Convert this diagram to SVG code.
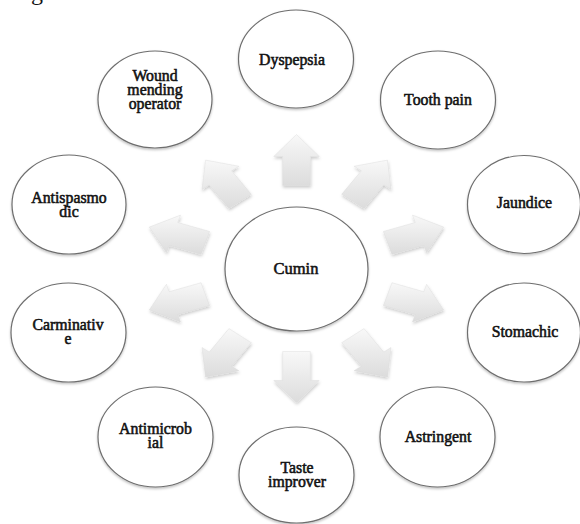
<svg xmlns="http://www.w3.org/2000/svg" width="580" height="524" viewBox="0 0 580 524">
<defs>
<linearGradient id="ag" x1="0" y1="0" x2="0" y2="1">
<stop offset="0" stop-color="#f8f8f8"/>
<stop offset="1" stop-color="#dcdcdc"/>
</linearGradient>
<filter id="ash" x="-20%" y="-20%" width="140%" height="140%">
<feDropShadow dx="0.5" dy="2" stdDeviation="1.5" flood-color="#000" flood-opacity="0.2"/>
</filter>
<filter id="esh" x="-10%" y="-10%" width="120%" height="125%">
<feDropShadow dx="0" dy="1.5" stdDeviation="1" flood-color="#000" flood-opacity="0.25"/>
</filter>
</defs>
<style>
.arrow{fill:url(#ag);stroke:#d8d8d8;stroke-width:0.4}
.node{fill:#fff;stroke:#6e6e6e;stroke-width:1.2;filter:url(#esh)}
.lbl{font-family:"Liberation Serif","Times New Roman",serif;font-size:15.8px;fill:#111;stroke:#111;stroke-width:0.55;text-anchor:middle}
</style>
<rect width="580" height="524" fill="#fff"/>
<text x="31" y="0" font-family="Liberation Serif, serif" font-size="24" fill="#111">g</text>
<g id="connectors" filter="url(#ash)">
<polygon class="arrow" points="282.64,185.5 282.64,156.5 273.69,156.5 296.5,134.5 319.31,156.5 310.36,156.5 310.36,185.5"/>
<polygon class="arrow" points="341.64,194.3 361.32,170.84 354.08,166.28 387.47,160.09 390.99,189.5 383.75,184.94 364.06,208.4"/>
<polygon class="arrow" points="383.39,231.44 415.25,222.48 412.48,215.11 443.7,227.09 426.58,252.67 423.81,245.3 391.96,254.26"/>
<polygon class="arrow" points="383.39,305.56 415.25,314.52 412.48,321.89 443.7,309.91 426.58,284.33 423.81,291.7 391.96,282.74"/>
<polygon class="arrow" points="341.64,342.7 361.32,366.16 354.08,370.72 387.47,376.91 390.99,347.5 383.75,352.06 364.06,328.6"/>
<polygon class="arrow" points="310.36,351.5 310.36,380.5 319.31,380.5 296.5,402.5 273.69,380.5 282.64,380.5 282.64,351.5"/>
<polygon class="arrow" points="251.36,342.7 231.68,366.16 238.92,370.72 205.53,376.91 202.01,347.5 209.25,352.06 228.94,328.6"/>
<polygon class="arrow" points="209.61,305.56 177.75,314.52 180.52,321.89 149.3,309.91 166.42,284.33 169.19,291.7 201.04,282.74"/>
<polygon class="arrow" points="209.61,231.44 177.75,222.48 180.52,215.11 149.3,227.09 166.42,252.67 169.19,245.3 201.04,254.26"/>
<polygon class="arrow" points="251.36,194.3 231.68,170.84 238.92,166.28 205.53,160.09 202.01,189.5 209.25,184.94 228.94,208.4"/>
</g>
<g id="cumin">
<ellipse class="node" cx="296.5" cy="269" rx="71.5" ry="62"/>
<text class="lbl" x="296" y="273.5" style="font-size:16.5px">Cumin</text>
</g>
<g id="dyspepsia">
<ellipse class="node" cx="296" cy="59" rx="57.5" ry="49"/>
<text class="lbl" x="292" y="65">Dyspepsia</text>
</g>
<g id="tooth-pain">
<ellipse class="node" cx="438" cy="100" rx="57.5" ry="49"/>
<text class="lbl" x="438" y="105">Tooth pain</text>
</g>
<g id="jaundice">
<ellipse class="node" cx="524" cy="204.5" rx="56.5" ry="49"/>
<text class="lbl" x="524.5" y="208">Jaundice</text>
</g>
<g id="stomachic">
<ellipse class="node" cx="524" cy="332.5" rx="56.5" ry="49.5"/>
<text class="lbl" x="525" y="336.5">Stomachic</text>
</g>
<g id="astringent">
<ellipse class="node" cx="437.5" cy="437" rx="57.5" ry="50"/>
<text class="lbl" x="438" y="441.5">Astringent</text>
</g>
<g id="taste-improver">
<ellipse class="node" cx="296.5" cy="475" rx="57.5" ry="48"/>
<text class="lbl" x="297" y="473">Taste</text>
<text class="lbl" x="297" y="487">improver</text>
</g>
<g id="antimicrobial">
<ellipse class="node" cx="155.5" cy="437" rx="57.5" ry="50"/>
<text class="lbl" x="155.5" y="434">Antimicrob</text>
<text class="lbl" x="155.5" y="448">ial</text>
</g>
<g id="carminative">
<ellipse class="node" cx="68.5" cy="332.5" rx="57.5" ry="49.5"/>
<text class="lbl" x="68" y="330">Carminativ</text>
<text class="lbl" x="68" y="344">e</text>
</g>
<g id="antispasmodic">
<ellipse class="node" cx="69" cy="204.5" rx="57" ry="49.5"/>
<text class="lbl" x="69" y="202.5">Antispasmo</text>
<text class="lbl" x="69" y="216.5">dic</text>
</g>
<g id="wound-mending-operator">
<ellipse class="node" cx="155" cy="99.5" rx="57" ry="48.5"/>
<text class="lbl" x="155" y="81">Wound</text>
<text class="lbl" x="155" y="95">mending</text>
<text class="lbl" x="155" y="109">operator</text>
</g>
</svg>
